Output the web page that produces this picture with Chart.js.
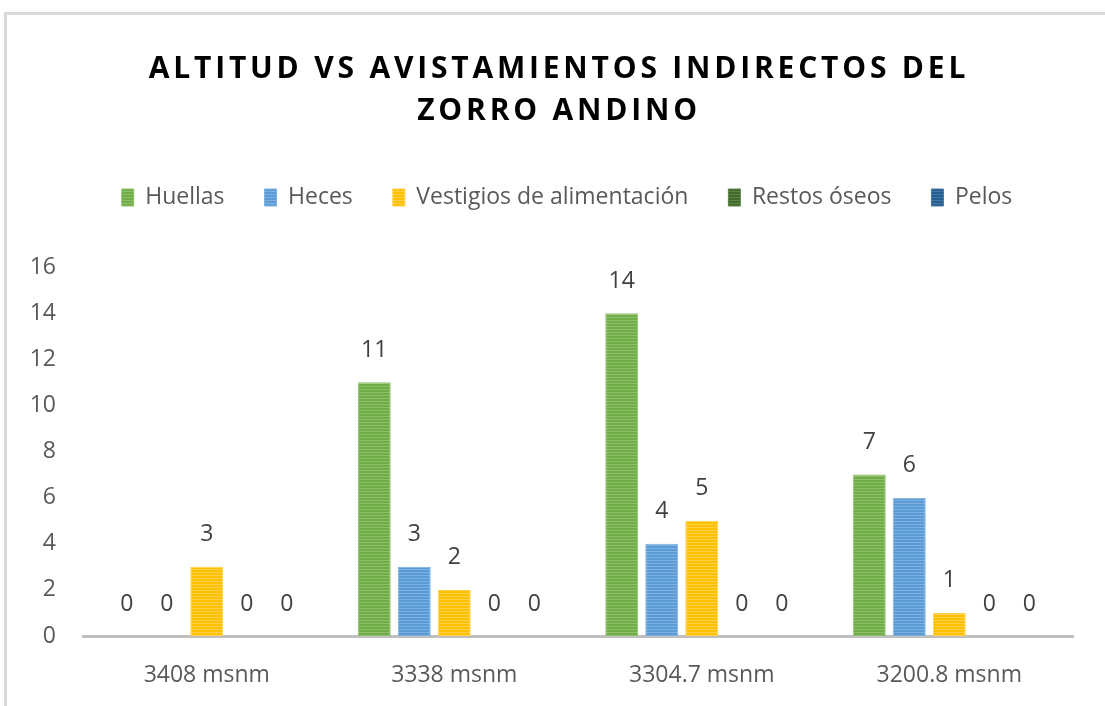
<!DOCTYPE html>
<html>
<head>
<meta charset="utf-8">
<script src="https://cdn.jsdelivr.net/npm/chart.js@4.4.1/dist/chart.umd.min.js"></script>
<style>
  body { margin: 0; background: #fff; overflow: hidden; }
  #frame { position: absolute; left: 4px; top: 12px; width: 1300px; height: 900px;
           border-left: 3px solid #d9d9d9; border-top: 3px solid #d9d9d9; }
  #wrap { position: absolute; left: 0; top: 0; width: 1105px; height: 706px; }
</style>
</head>
<body>
<div id="frame"></div>
<div id="wrap"><canvas id="chart" width="1105" height="706"></canvas></div>
<script>
// Data
var titleLines = ['ALTITUD VS AVISTAMIENTOS INDIRECTOS DEL', 'ZORRO ANDINO'];
var categories = ['3408 msnm', '3338 msnm', '3304.7 msnm', '3200.8 msnm'];
var seriesNames = ['Huellas', 'Heces', 'Vestigios de alimentación', 'Restos óseos', 'Pelos'];
var huellas = [0, 11, 14, 7];
var heces = [0, 3, 4, 6];
var vestigios = [3, 2, 5, 1];
var restosOseos = [0, 0, 0, 0];
var pelos = [0, 0, 0, 0];
var yTicksMax = 16;
var yTicksStep = 2;

var seriesColors = ['#70AD47', '#5B9BD5', '#FFC000', '#43682B', '#255E91'];
var stripeColors = ['#8CC06A', '#7DB1E0', '#FFD04A', '#5E8548', '#4677A6'];
var fontFamily = '"Open Sans", sans-serif';

// horizontal stripe fill like the original
function stripes(base, light) {
    var c = document.createElement('canvas');
    c.width = 4; c.height = 3;
    var x = c.getContext('2d');
    x.fillStyle = base;
    x.fillRect(0, 0, 4, 3);
    x.fillStyle = light;
    x.fillRect(0, 2, 4, 1);
    return x.createPattern(c, 'repeat');
}

var allSeries = [huellas, heces, vestigios, restosOseos, pelos];
var datasets = allSeries.map(function(vals, i) {
    return {
        label: seriesNames[i],
        data: vals,
        backgroundColor: stripes(seriesColors[i], stripeColors[i]),
        borderColor: stripeColors[i],
        borderWidth: 1,
        categoryPercentage: 0.808,
        barPercentage: 0.825
    };
});

// empty layout boxes: gap under the legend, margin on the right of the plot
function spacerBox(position, size, weight) {
    return {
        position: position,
        weight: weight,
        fullSize: false,
        options: {},
        isHorizontal: function() { return position === 'top' || position === 'bottom'; },
        update: function(maxWidth, maxHeight) {
            if (this.isHorizontal()) { this.width = maxWidth; this.height = size; }
            else { this.width = size; this.height = maxHeight; }
        },
        draw: function() {}
    };
}
var spacers = {
    id: 'spacers',
    beforeInit: function(chart) {
        Chart.layouts.addBox(chart, spacerBox('top', 48, 500));
        Chart.layouts.addBox(chart, spacerBox('right', 31, 500));
    }
};

// value labels above each bar (zeros included)
var valueLabels = {
    id: 'valueLabels',
    afterDatasetsDraw: function(chart) {
        var ctx = chart.ctx;
        ctx.save();
        ctx.font = '23px ' + fontFamily;
        ctx.fillStyle = '#404040';
        ctx.textAlign = 'center';
        ctx.textBaseline = 'middle';
        chart.data.datasets.forEach(function(ds, i) {
            chart.getDatasetMeta(i).data.forEach(function(bar, j) {
                ctx.fillText(String(ds.data[j]), bar.x, bar.y - 32);
            });
        });
        ctx.restore();
    }
};

// spaced bold title
var spacedTitle = {
    id: 'spacedTitle',
    afterDraw: function(chart) {
        var ctx = chart.ctx;
        ctx.save();
        ctx.font = 'bold 30px ' + fontFamily;
        ctx.letterSpacing = '3.8px';
        ctx.fillStyle = '#000';
        ctx.textAlign = 'center';
        ctx.textBaseline = 'middle';
        ctx.fillText(titleLines[0], 559, 69);
        ctx.fillText(titleLines[1], 559, 111);
        ctx.restore();
    }
};

var ctx = document.getElementById('chart').getContext('2d');
var chart = new Chart(ctx, {
    type: 'bar',
    data: { labels: categories, datasets: datasets },
    plugins: [spacers, valueLabels, spacedTitle],
    options: {
        responsive: false,
        animation: false,
        layout: { padding: { top: 146, right: 1, left: 30, bottom: 0 } },
        plugins: {
            tooltip: { enabled: false },
            legend: {
                position: 'top',
                labels: {
                    boxWidth: 12,
                    boxHeight: 17,
                    padding: 40,
                    color: '#595959',
                    font: { family: fontFamily, size: 23 }
                }
            }
        },
        scales: {
            x: {
                grid: { display: false, drawTicks: false },
                border: { display: true, color: '#BFBFBF', width: 3 },
                ticks: {
                    color: '#595959',
                    padding: 26,
                    font: { family: fontFamily, size: 23 }
                },
                afterFit: function(scale) { scale.height = 70; }
            },
            y: {
                min: 0,
                max: yTicksMax,
                grid: { display: false, drawTicks: false },
                border: { display: false },
                ticks: {
                    stepSize: yTicksStep,
                    color: '#595959',
                    padding: 27,
                    font: { family: fontFamily, size: 23 }
                },
                afterFit: function(scale) { scale.width = 53; }
            }
        }
    }
});
</script>
</body>
</html>
